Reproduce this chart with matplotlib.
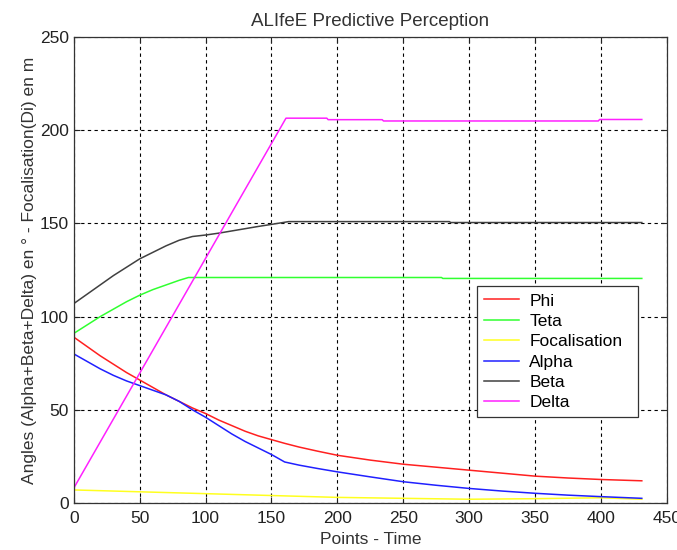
import matplotlib
matplotlib.use('Agg')
import matplotlib.pyplot as plt

# --- values ---
phi_x = [0, 10, 20, 30, 40, 50, 60, 70, 80, 90, 100, 110, 120, 130, 140, 150, 160, 171,
         185, 200, 225, 250, 275, 300, 325, 350, 375, 400, 431]
phi_y = [89, 84, 79, 74.5, 70, 66, 62, 58, 54.5, 51, 48, 44.5, 41.5, 38.5, 36, 34, 32, 30,
         27.8, 25.6, 23, 20.8, 19.2, 17.6, 16, 14.4, 13.4, 12.6, 11.9]

teta_x = [0, 10, 20, 30, 40, 50, 60, 70, 80, 87, 150, 279, 280, 431]
teta_y = [91, 95.5, 100, 104, 108, 111.5, 114.5, 117, 119.5, 121, 121, 121, 120.5, 120.5]

foc_x = [0, 50, 100, 150, 200, 250, 300, 350, 400, 431]
foc_y = [7, 6, 5, 4, 3, 2.5, 2, 2.3, 2.8, 2]

alpha_x = [0, 10, 20, 30, 40, 50, 60, 70, 80, 90, 100, 110, 120, 130, 140, 150, 160, 171,
           185, 200, 225, 250, 275, 300, 325, 350, 375, 400, 431]
alpha_y = [80, 76, 72, 68.5, 65.5, 63, 60.5, 58, 54.5, 50, 46, 41.5, 37, 33, 29.5, 26, 22, 20.3,
           18.5, 16.7, 14, 11.4, 9.5, 7.8, 6.4, 5.2, 4.2, 3.4, 2.5]

beta_x = [0, 10, 20, 30, 40, 50, 60, 70, 80, 90, 100, 110, 120, 130, 140, 150, 163, 285, 286, 431]
beta_y = [107, 112, 117, 122, 126.5, 131, 134.5, 138, 141, 143, 143.8, 144.8, 146, 147.2, 148.4,
          149.5, 151, 151, 150.5, 150.5]

delta_x = [0, 161, 192, 193, 234, 235, 398, 399, 431]
delta_y = [8, 206.5, 206.5, 205.7, 205.7, 205, 205, 205.8, 205.8]

series = [
    ('Phi', phi_x, phi_y, '#ff2020'),
    ('Teta', teta_x, teta_y, '#30ff30'),
    ('Focalisation', foc_x, foc_y, '#ffff20'),
    ('Alpha', alpha_x, alpha_y, '#2020ff'),
    ('Beta', beta_x, beta_y, '#404040'),
    ('Delta', delta_x, delta_y, '#ff20ff'),
]

plt.rcParams['font.family'] = ['Liberation Sans', 'DejaVu Sans']

fig = plt.figure(figsize=(6.77, 5.5), dpi=100)
ax = fig.add_axes([0.109, 0.0855, 0.876, 0.847])

for name, xs, ys, col in series:
    ax.plot(xs, ys, color=col, lw=1.1, label=name)

ax.set_xlim(0, 450)
ax.set_ylim(0, 250)
ax.set_xticks(range(0, 451, 50))
ax.set_yticks(range(0, 251, 50))
ax.grid(True, color='black', linestyle=(0, (3, 3)), lw=0.8)
ax.tick_params(direction='in', top=True, right=True, labelsize=12.5, length=4, colors='#222222')
ax.tick_params(axis='x', pad=6)
for s in ax.spines.values():
    s.set_color('#333333')
    s.set_linewidth(0.9)

ax.set_title('ALIfeE Predictive Perception', fontsize=13.5, color='#333333', pad=8)
ax.set_xlabel('Points - Time', fontsize=12.5, color='#333333', labelpad=4)
ax.set_ylabel('Angles (Alpha+Beta+Delta) en ° - Focalisation(Di) en m', fontsize=12.5,
              color='#333333', labelpad=2)

leg = ax.legend(loc='lower left', bbox_to_anchor=(0.68, 0.184, 0.272, 0.278), mode='expand',
                fontsize=12.5, fancybox=False, framealpha=1, edgecolor='#333333',
                handlelength=2.0, handletextpad=0.6, borderaxespad=0, labelspacing=0.3)
leg.get_frame().set_linewidth(0.9)

fig.savefig('out.png', dpi=100)
